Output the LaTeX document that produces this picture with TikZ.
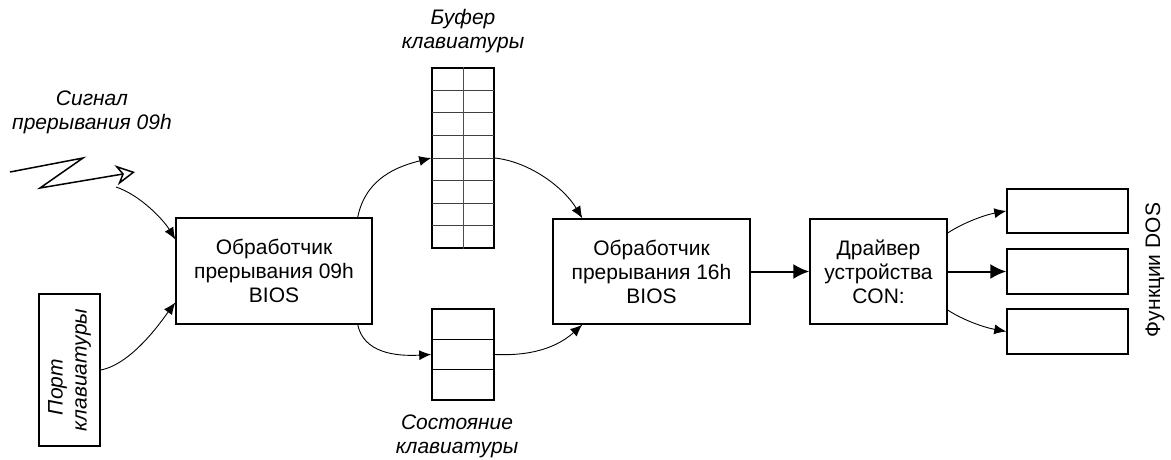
\documentclass[tikz,border=0pt]{standalone}
\usepackage{fontspec}
\setmainfont{Liberation Sans}
\usetikzlibrary{arrows.meta}
\begin{document}
\begin{tikzpicture}[x=1pt,y=-1pt,
  txt/.style={font=\fontsize{21}{24}\selectfont, align=center},
  itxt/.style={font=\fontsize{21}{24}\selectfont\itshape, align=center, inner sep=0},
  blk/.style={draw, line width=1.4pt, rectangle, inner sep=0, txt},
  cell/.style={draw, line width=1.6pt, rectangle, inner sep=0},
  link/.style={line width=0.9pt, -{Latex[length=12pt,width=10pt]}},
  thick link/.style={line width=2pt, -{Latex[length=16pt,width=15pt]}}]
\useasboundingbox (0,0) rectangle (1171,460);

% processing blocks
\node[blk, minimum width=196, minimum height=106] (b1) at (274,271)
  {Обработчик\\прерывания 09h\\BIOS};
\node[blk, minimum width=197, minimum height=105] (b2) at (651.5,271.5)
  {Обработчик\\прерывания 16h\\BIOS};
\node[blk, minimum width=137, minimum height=105] (b3) at (878.5,271.5)
  {Драйвер\\устройства\\CON:};

% DOS function boxes
\node[blk, minimum width=121, minimum height=44] (fa) at (1067.5,211) {};
\node[blk, minimum width=121, minimum height=45] (fb) at (1067.5,271.5) {};
\node[blk, minimum width=121, minimum height=45] (fc) at (1067.5,331.5) {};
\node[txt, rotate=90] (fdos) at (1155,270) {Функции DOS};

% keyboard port
\node[blk, minimum width=61, minimum height=152] (port) at (69.5,370) {};
\node[itxt, rotate=90] (portlbl) at (69.5,370) {Порт\hspace*{34pt}\\клавиатуры};

% keyboard buffer: 8 rows x 2 columns
\node[cell, minimum width=62, minimum height=180] (buf) at (463,158) {};
\foreach \k in {1,...,7}
  \draw[line width=1pt, black!75] (432,68+22.5*\k) -- (494,68+22.5*\k);
\draw[line width=1pt, black!70] (buf.north) -- (buf.south);
\node[itxt] (buflbl) at (463,31) {Буфер\\клавиатуры};

% keyboard state: 3 rows
\node[cell, minimum width=62, minimum height=91] (st) at (463,354.5) {};
\foreach \k in {1,2}
  \draw[line width=1.4pt] (432,309+30.33*\k) -- (494,309+30.33*\k);
\node[itxt] (stlbl) at (457,436) {Состояние\\клавиатуры};

% interrupt signal
\node[itxt] (siglbl) at (92,112) {Сигнал\\прерывания 09h};
\coordinate (z0) at (10,172);
\coordinate (z1) at (83,158);
\coordinate (z2) at (40,188);
\coordinate (zt) at (135,172);
\coordinate (sig) at (116,187);
\draw[line width=1.5pt, line join=miter, -{Stealth[open, length=19pt, width=20pt, inset=6pt]}]
  (z0) -- (z1) -- (z2) -- (zt);

% connectors
\draw[link] (sig) .. controls +(24,8) and +(-12,-20) .. ([yshift=31.5pt]b1.west);
\draw[link] (port.east) .. controls +(32,-6) and +(-12,16) .. ([yshift=-31.5pt]b1.west);
\draw[link] ([xshift=-15pt]b1.north east) .. controls +(8,-40) and +(-32,8) .. (buf.west);
\draw[link] (buf.east) .. controls +(36,4) and +(-18,-30) .. ([xshift=30pt]b2.north west);
\draw[link] ([xshift=-15pt]b1.south east) .. controls +(6,28) and +(-36,2) .. (st.west);
\draw[link] (st.east) .. controls +(45,2) and +(-20,18) .. ([xshift=30pt]b2.south west);
\draw[thick link] (b2.east) -- (b3.west);
\draw[link] ([yshift=38.5pt]b3.east) .. controls +(15,-10) and +(-22,4) .. (fa.west);
\draw[thick link] (b3.east) -- (fb.west);
\draw[link] ([yshift=-38.5pt]b3.east) .. controls +(15,10) and +(-22,-4) .. (fc.west);
\end{tikzpicture}
\end{document}
